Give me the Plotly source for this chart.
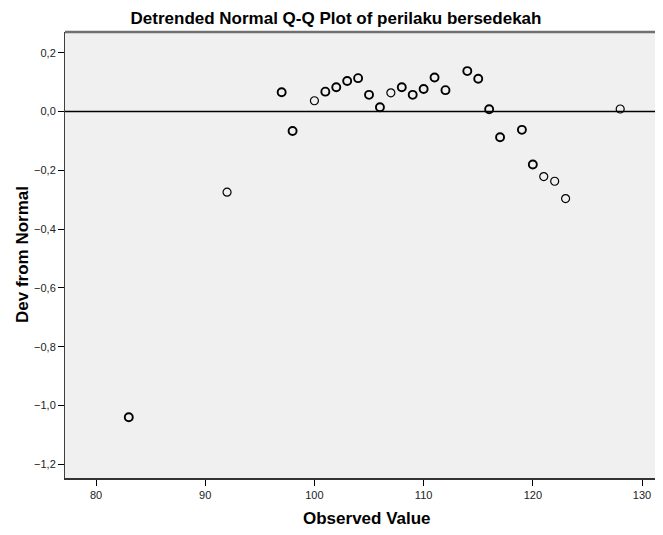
import plotly.graph_objects as go

observed = [83, 92, 97, 98, 100, 101, 102, 103, 104, 105, 106, 107, 108, 109,
            110, 111, 112, 114, 115, 116, 117, 119, 120, 121, 122, 123, 128]
dev_from_normal = [-1.04, -0.274, 0.066, -0.066, 0.037, 0.068, 0.083, 0.104, 0.114,
                   0.057, 0.015, 0.064, 0.083, 0.057, 0.077, 0.116, 0.073, 0.138,
                   0.112, 0.008, -0.087, -0.062, -0.180, -0.221, -0.237, -0.296, 0.009]
frequency = [2, 1, 2, 2, 1, 2, 2, 2, 2, 2, 2, 1, 2, 2,
             2, 2, 2, 2, 2, 2, 2, 2, 2, 1, 1, 1, 1]

x_ticks = [80, 90, 100, 110, 120, 130]
y_ticks = [0.2, 0.0, -0.2, -0.4, -0.6, -0.8, -1.0, -1.2]

line_widths = [1.9 if f > 1 else 1.2 for f in frequency]

fig = go.Figure()
fig.add_trace(go.Scatter(
    x=observed, y=dev_from_normal, mode="markers",
    marker=dict(symbol="circle-open", size=8, color="black",
                line=dict(color="black", width=line_widths)),
    showlegend=False, hoverinfo="x+y"))

fig.add_hline(y=0, line=dict(color="black", width=1.5))
# top frame
fig.add_shape(type="line", xref="x domain", yref="y domain", x0=0, x1=1, y0=1, y1=1,
              line=dict(color="#707070", width=2.5))

font_family = "Liberation Sans, Arial, sans-serif"
# page body has an 8px margin; figure is sized and offset to compensate
W, H = 655, 527
ML, MT, MB = 57, 24, 57
plot_w = W - ML
plot_h = H - MT - MB

fig.update_layout(
    width=W, height=H,
    margin=dict(l=ML, r=0, t=MT, b=MB),
    paper_bgcolor="white", plot_bgcolor="#F0F0F0",
    separators=",.",
    font=dict(family=font_family, size=11, color="#222222"),
    title=dict(text="<b>Detrended Normal Q-Q Plot of perilaku bersedekah</b>",
               x=328 / W, xanchor="center", y=1 - 10 / H, yanchor="middle",
               font=dict(family=font_family, size=17, color="black")),
    xaxis=dict(range=[77.16, 131.92], tickvals=x_ticks, tickformat="d",
               showgrid=False, zeroline=False,
               showline=True, linecolor="#333333", linewidth=2,
               ticks="outside", ticklen=6, tickcolor="black", tickwidth=1),
    yaxis=dict(range=[-1.247, 0.271], tickvals=y_ticks, tickformat=".1f",
               showgrid=False, zeroline=False,
               showline=True, linecolor="#404040", linewidth=1,
               ticks="outside", ticklen=6, tickcolor="black", tickwidth=1),
    annotations=[
        dict(text="<b>Observed Value</b>", xref="paper", yref="paper",
             x=0.505, y=-41 / plot_h, xanchor="center", yanchor="middle",
             showarrow=False, font=dict(family=font_family, size=17, color="black")),
        dict(text="<b>Dev from Normal</b>", xref="paper", yref="paper",
             x=-43 / plot_w, y=0.5, xanchor="center", yanchor="middle",
             textangle=-90, showarrow=False,
             font=dict(family=font_family, size=17, color="black")),
    ],
)

fig.write_html("out.html")
